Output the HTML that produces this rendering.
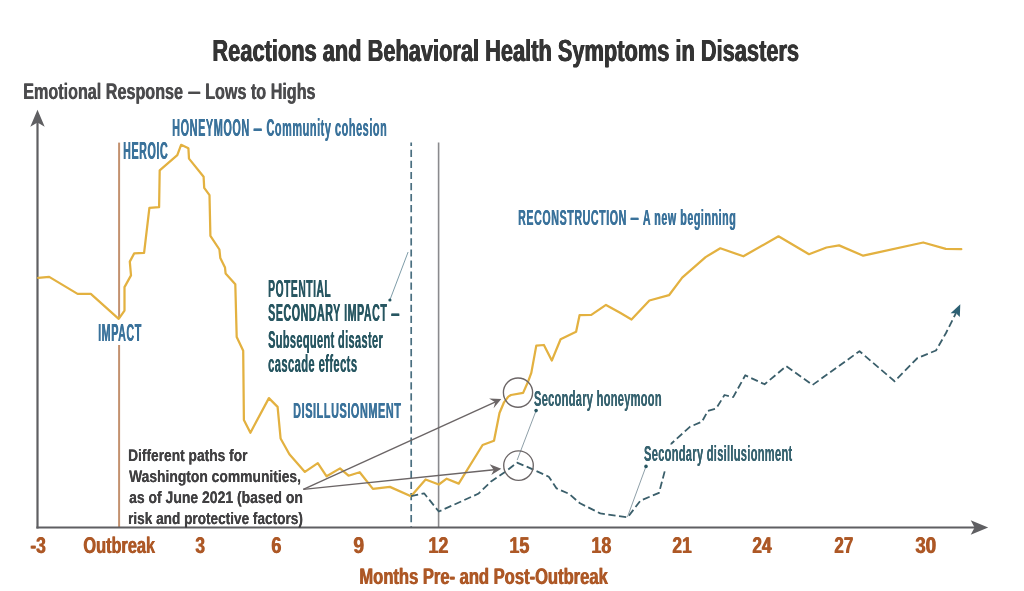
<!DOCTYPE html>
<html lang="en"><head><meta charset="utf-8"><title>Reactions and Behavioral Health Symptoms in Disasters</title>
<style>html,body{margin:0;padding:0;background:#fff}
body{width:1024px;height:591px;overflow:hidden;position:relative;font-family:"Liberation Sans",sans-serif}
svg{display:block;position:absolute;left:0;top:0}
#t b{display:inline-block;transform:scaleX(1.45);margin:0 .13em}
#t span{position:absolute;white-space:nowrap;font-weight:bold;line-height:1em;transform-origin:0 0;display:block}</style>
</head><body>
<svg width="1024" height="591" viewBox="0 0 1024 591">
<rect width="1024" height="591" fill="#ffffff"/>
<!-- vertical marker lines -->
<line x1="119.1" y1="142.6" x2="119.1" y2="318" stroke="#c3916f" stroke-width="2"/>
<line x1="119.1" y1="345" x2="119.1" y2="527" stroke="#c3916f" stroke-width="2"/>
<line x1="411.2" y1="142.4" x2="411.2" y2="527" stroke="#4a6f80" stroke-width="1.7" stroke-dasharray="7.2 3.87" stroke-dashoffset="3.7"/>
<line x1="438.6" y1="142.4" x2="438.6" y2="527" stroke="#8a8a8d" stroke-width="1.6"/>
<!-- axes -->
<line x1="37.5" y1="528.6" x2="37.5" y2="121" stroke="#5f5f62" stroke-width="2.2"/>
<polygon points="37.5,109.7 44.7,126.8 37.5,122.6 30.3,126.8" fill="#5f5f62"/>
<line x1="36.4" y1="527.5" x2="975" y2="527.5" stroke="#5f5f62" stroke-width="2.2"/>
<polygon points="988.2,527.5 970.7,534.8 974.6,527.5 970.7,520.2" fill="#5f5f62"/>
<!-- curves -->
<polyline points="38.2,277.8 49.2,276.9 77.6,293.9 90.8,293.9 118.7,318.8 124.5,310.6 124.5,287.1 131.0,275.4 129.8,261.6 134.2,253.4 144.1,252.9 149.4,207.8 159.1,207.2 159.7,170.3 177.3,155.1 181.1,144.8 188.4,148.3 189.0,158.6 203.6,176.8 204.2,187.9 209.5,195.2 210.4,235.8 219.4,249.5 220.3,258.0 225.0,267.5 225.6,273.4 235.3,284.2 236.7,337.0 243.2,350.7 243.9,420.1 250.4,432.7 268.9,398.1 277.6,406.9 280.6,438.5 289.4,454.3 304.9,471.9 317.8,463.1 326.6,476.3 340.0,468.4 348.5,475.7 359.7,472.2 372.9,488.9 389.9,486.9 411.0,496.2 425.6,479.5 438.8,484.5 446.7,478.7 458.7,483.6 482.6,445.0 494.0,440.8 499.5,413.0 503.8,402.7 508.3,396.6 511.0,395.0 523.1,392.9 527.8,382.3 531.3,372.9 536.3,345.6 543.9,345.0 551.8,360.6 560.6,339.2 576.1,331.8 579.6,315.1 591.3,314.9 606.0,304.9 620.1,312.8 631.5,319.5 649.4,300.5 669.0,295.2 682.2,277.6 705.6,257.1 720.3,248.3 743.4,256.3 778.5,236.3 809.0,254.2 826.5,247.5 839.1,245.4 863.2,255.7 923.2,242.5 945.8,248.9 961.3,249.2" fill="none" stroke="#e3b140" stroke-width="2.25" stroke-linejoin="round" stroke-linecap="round"/>
<polyline points="411.0,496.2 424.1,493.3 438.8,511.5 478.2,493.8 491.4,481.2 505.0,472.0 517.0,462.6 530.0,468.1 548.8,476.7 556.6,488.4 569.1,493.9 580.0,503.3 600.3,513.4 627.6,517.3 640.6,500.5 659.0,492.9 665.1,469.8 671.5,443.5 689.9,426.8 702.0,421.7 707.8,410.9 716.3,408.4 724.5,395.0 733.2,397.1 745.3,375.3 764.6,384.3 786.3,366.1 812.5,385.0 859.5,351.2 894.6,381.3 917.5,358.0 936.0,350.5 946.0,333.0 956.0,313.0" fill="none" stroke="#3b5f6b" stroke-width="1.8" stroke-dasharray="7.3 3.5" stroke-linejoin="round"/>
<polygon points="960.3,304.3 950.6,313.2 956.1,313.2 959.8,316.9" fill="#2d6073"/>
<rect x="641" y="444.5" width="154" height="25" fill="#fff"/>
<!-- leader lines -->
<line x1="389.9" y1="300" x2="408.1" y2="252" stroke="#6f919e" stroke-width="0.9"/>
<circle cx="389.9" cy="300" r="1.6" fill="#275661"/>
<line x1="536.1" y1="410.6" x2="517.2" y2="460" stroke="#8e9fa8" stroke-width="1"/>
<circle cx="536.1" cy="410.6" r="1.8" fill="#275661"/>
<line x1="646" y1="466.4" x2="627.5" y2="516.8" stroke="#8e9fa8" stroke-width="1"/>
<circle cx="646" cy="466.4" r="1.8" fill="#275661"/>
<!-- annotation arrows -->
<line x1="303.3" y1="489.4" x2="495" y2="402.2" stroke="#6b6566" stroke-width="1.4"/>
<polygon points="501.3,399 489.1,398.4 495.2,402.2 493.6,408.3" fill="#6b6566"/>
<line x1="303.3" y1="489.4" x2="494" y2="469.7" stroke="#6b6566" stroke-width="1.4"/>
<polygon points="501.3,468.8 489.7,464.3 493.8,469.9 491.3,474.9" fill="#6b6566"/>
<circle cx="518" cy="392.6" r="14.6" fill="none" stroke="#6b6566" stroke-width="1.35"/>
<circle cx="518.5" cy="465.6" r="14.8" fill="none" stroke="#6b6566" stroke-width="1.35"/>
</svg>
<div id="t">
<span style="left:211.7px;top:35px;font-size:30.52px;color:#343434;text-shadow:0.60px 0 0 #343434,1.20px 0 0 #343434;transform:scaleX(0.7147) skewX(.05deg)">Reactions and Behavioral Health Symptoms in Disasters</span>
<span style="left:22.6px;top:81px;font-size:22.53px;color:#4b4b4d;text-shadow:0.60px 0 0 #4b4b4d;transform:scaleX(0.7175) skewX(.05deg)">Emotional Response <b>–</b> Lows to Highs</span>
<span style="left:172.0px;top:117px;font-size:23.26px;color:#3a729b;text-shadow:0.70px 0 0 #3a729b;letter-spacing:1.2px;transform:scaleX(0.4685) skewX(.05deg)">HONEYMOON <b>–</b> Community cohesion</span>
<span style="left:123.0px;top:140px;font-size:23.26px;color:#3a729b;text-shadow:0.70px 0 0 #3a729b;letter-spacing:1.2px;transform:scaleX(0.4623) skewX(.05deg)">HEROIC</span>
<span style="left:98.2px;top:322px;font-size:23.26px;color:#3a729b;text-shadow:0.70px 0 0 #3a729b;letter-spacing:1.2px;transform:scaleX(0.4622) skewX(.05deg)">IMPACT</span>
<span style="left:267.9px;top:278px;font-size:23.26px;color:#275661;text-shadow:0.70px 0 0 #275661;letter-spacing:1.2px;transform:scaleX(0.4426) skewX(.05deg)">POTENTIAL</span>
<span style="left:268.1px;top:302px;font-size:23.26px;color:#275661;text-shadow:0.70px 0 0 #275661;letter-spacing:1.2px;transform:scaleX(0.4581) skewX(.05deg)">SECONDARY IMPACT <b>–</b></span>
<span style="left:268.0px;top:329px;font-size:23.26px;color:#275661;text-shadow:0.35px 0 0 #275661;letter-spacing:0.8px;transform:scaleX(0.4716) skewX(.05deg)">Subsequent disaster</span>
<span style="left:268.1px;top:353px;font-size:23.26px;color:#275661;text-shadow:0.35px 0 0 #275661;letter-spacing:0.8px;transform:scaleX(0.4825) skewX(.05deg)">cascade effects</span>
<span style="left:293.0px;top:400px;font-size:22.24px;color:#3a729b;text-shadow:0.70px 0 0 #3a729b;letter-spacing:1.2px;transform:scaleX(0.4884) skewX(.05deg)">DISILLUSIONMENT</span>
<span style="left:517.8px;top:206px;font-size:22.97px;color:#3a729b;text-shadow:0.70px 0 0 #3a729b;letter-spacing:1.2px;transform:scaleX(0.4653) skewX(.05deg)">RECONSTRUCTION <b>–</b> A new beginning</span>
<span style="left:534.0px;top:388px;font-size:22.24px;color:#36626f;text-shadow:0.10px 0 0 #36626f;letter-spacing:0.6px;transform:scaleX(0.4971) skewX(.05deg)">Secondary honeymoon</span>
<span style="left:644.2px;top:443px;font-size:22.24px;color:#36626f;text-shadow:0.10px 0 0 #36626f;letter-spacing:0.6px;transform:scaleX(0.4982) skewX(.05deg)">Secondary disillusionment</span>
<span style="left:128.2px;top:448px;font-size:16.72px;color:#414042;text-shadow:0.15px 0 0 #414042;transform:scaleX(0.8250) skewX(.05deg)">Different paths for</span>
<span style="left:128.6px;top:469px;font-size:16.72px;color:#414042;text-shadow:0.15px 0 0 #414042;transform:scaleX(0.8295) skewX(.05deg)">Washington communities,</span>
<span style="left:128.6px;top:490px;font-size:16.72px;color:#414042;text-shadow:0.15px 0 0 #414042;transform:scaleX(0.8362) skewX(.05deg)">as of June 2021 (based on</span>
<span style="left:128.0px;top:511px;font-size:16.72px;color:#414042;text-shadow:0.15px 0 0 #414042;transform:scaleX(0.8152) skewX(.05deg)">risk and protective factors)</span>
<span style="left:29.8px;top:534px;font-size:22.82px;color:#ad5826;text-shadow:1.00px 0 0 #ad5826;transform:scaleX(0.7633) skewX(.05deg)">-3</span>
<span style="left:82.6px;top:534px;font-size:22.82px;color:#ad5826;text-shadow:1.00px 0 0 #ad5826;transform:scaleX(0.7159) skewX(.05deg)">Outbreak</span>
<span style="left:195.0px;top:534px;font-size:22.82px;color:#ad5826;text-shadow:1.00px 0 0 #ad5826;transform:scaleX(0.7587) skewX(.05deg)">3</span>
<span style="left:270.9px;top:534px;font-size:22.82px;color:#ad5826;text-shadow:1.00px 0 0 #ad5826;transform:scaleX(0.7889) skewX(.05deg)">6</span>
<span style="left:353.0px;top:534px;font-size:22.82px;color:#ad5826;text-shadow:1.00px 0 0 #ad5826;transform:scaleX(0.8472) skewX(.05deg)">9</span>
<span style="left:428.3px;top:534px;font-size:22.82px;color:#ad5826;text-shadow:1.00px 0 0 #ad5826;transform:scaleX(0.7888) skewX(.05deg)">12</span>
<span style="left:509.1px;top:534px;font-size:22.82px;color:#ad5826;text-shadow:1.00px 0 0 #ad5826;transform:scaleX(0.7887) skewX(.05deg)">15</span>
<span style="left:590.5px;top:534px;font-size:22.82px;color:#ad5826;text-shadow:1.00px 0 0 #ad5826;transform:scaleX(0.7813) skewX(.05deg)">18</span>
<span style="left:671.9px;top:534px;font-size:22.82px;color:#ad5826;text-shadow:1.00px 0 0 #ad5826;transform:scaleX(0.7605) skewX(.05deg)">21</span>
<span style="left:752.2px;top:534px;font-size:22.82px;color:#ad5826;text-shadow:1.00px 0 0 #ad5826;transform:scaleX(0.7574) skewX(.05deg)">24</span>
<span style="left:833.7px;top:534px;font-size:22.82px;color:#ad5826;text-shadow:1.00px 0 0 #ad5826;transform:scaleX(0.7426) skewX(.05deg)">27</span>
<span style="left:914.9px;top:534px;font-size:22.82px;color:#ad5826;text-shadow:1.00px 0 0 #ad5826;transform:scaleX(0.8131) skewX(.05deg)">30</span>
<span style="left:359.2px;top:566px;font-size:22.53px;color:#ad5826;text-shadow:1.00px 0 0 #ad5826;transform:scaleX(0.7353) skewX(.05deg)">Months Pre- and Post-Outbreak</span>
</div>
</body></html>
